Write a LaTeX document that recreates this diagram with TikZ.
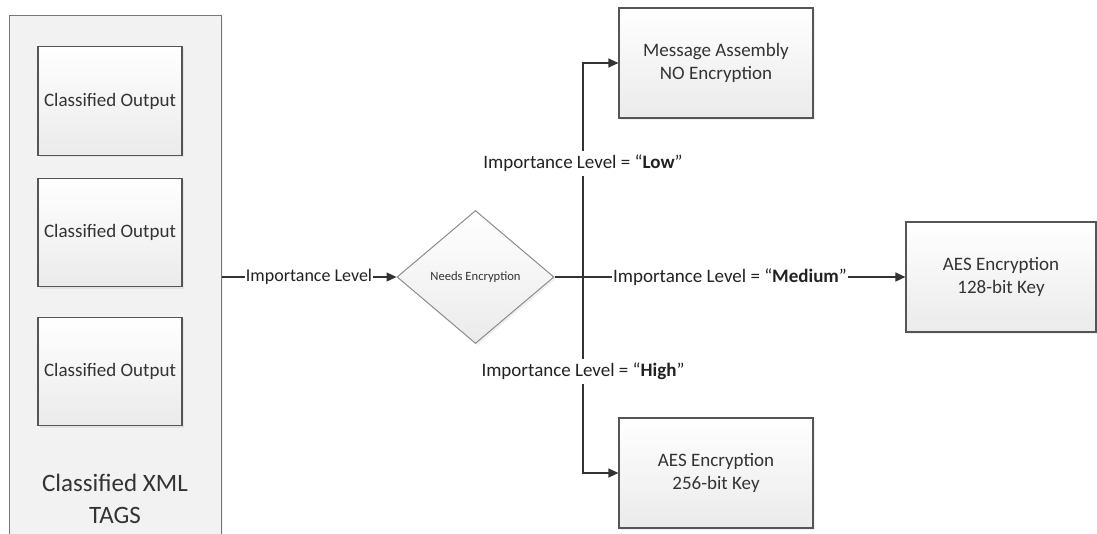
\documentclass[tikz,border=0pt]{standalone}
\usepackage{fontspec}
\setmainfont{Carlito}
\usetikzlibrary{arrows.meta,shapes.geometric,shadows}
\definecolor{txt}{HTML}{333333}
\definecolor{lbltxt}{HTML}{222222}
\definecolor{edgec}{HTML}{555555}
\definecolor{linec}{HTML}{333333}
\definecolor{contfill}{HTML}{F2F2F2}
\begin{document}
\begin{tikzpicture}[x=1pt,y=-1pt,
  shad/.style={drop shadow={opacity=0.12, shadow xshift=2pt, shadow yshift=-2pt}},
  box/.style={shad, draw=edgec, line width=1.2pt, top color=white, bottom color=black!8,
    minimum width=194pt, minimum height=110pt, inner sep=0pt, align=center, text=txt,
    font=\fontsize{19}{23.5}\selectfont},
  innerbox/.style={box, minimum width=144pt, minimum height=108.5pt},
  contbox/.style={shad, draw=edgec!80, line width=1pt, fill=contfill,
    minimum width=212pt, minimum height=540pt, inner sep=0pt},
  tagtext/.style={align=center, text=txt, inner sep=0pt, font=\fontsize{25}{32}\selectfont},
  dia/.style={diamond, shad, draw=black!45, line width=1pt, top color=white, bottom color=black!8,
    minimum width=157pt, minimum height=133pt, inner sep=0pt, text=txt,
    font=\fontsize{12.6}{14}\selectfont},
  conn/.style={draw=linec, line width=1.2pt, -{Triangle[length=10pt,width=9pt]}},
  lbl/.style={fill=white, inner xsep=1pt, inner ysep=4pt, text=lbltxt,
    font=\fontsize{19}{22}\selectfont}
]
\useasboundingbox (0,0) rectangle (1097,533);
\clip (0,0) rectangle (1097,533);
\node[contbox] (cont) at (115,285) {};
\node[innerbox] (o1) at (110,101) {Classified Output};
\node[innerbox] (o2) at (110,232.5) {Classified Output};
\node[innerbox] (o3) at (110,371.5) {Classified Output};
\node[tagtext] (tags) at (115,499) {Classified XML\\TAGS};
\node[dia] (dia) at (475.5,277) {Needs Encryption};
\node[box] (msg) at (716,63) {Message Assembly\\NO Encryption};
\node[box, minimum width=190pt] (a128) at (1001,277) {AES Encryption\\128-bit Key};
\node[box] (a256) at (716,473) {AES Encryption\\256-bit Key};
\coordinate (j) at (583,277);
\draw[conn] (cont.east |- dia.west) -- (dia.west) node[lbl,midway,font=\fontsize{18}{21}\selectfont]{Importance Level};
\draw[conn] (dia.east) -- (a128.west) node[lbl,midway]{Importance Level = “\textbf{Medium}”};
\draw[conn] (j) |- (msg.west) node[lbl,pos=0.266]{Importance Level = “\textbf{Low}”};
\draw[conn] (j) |- (a256.west) node[lbl,pos=0.24]{Importance Level = “\textbf{High}”};
\end{tikzpicture}
\end{document}
